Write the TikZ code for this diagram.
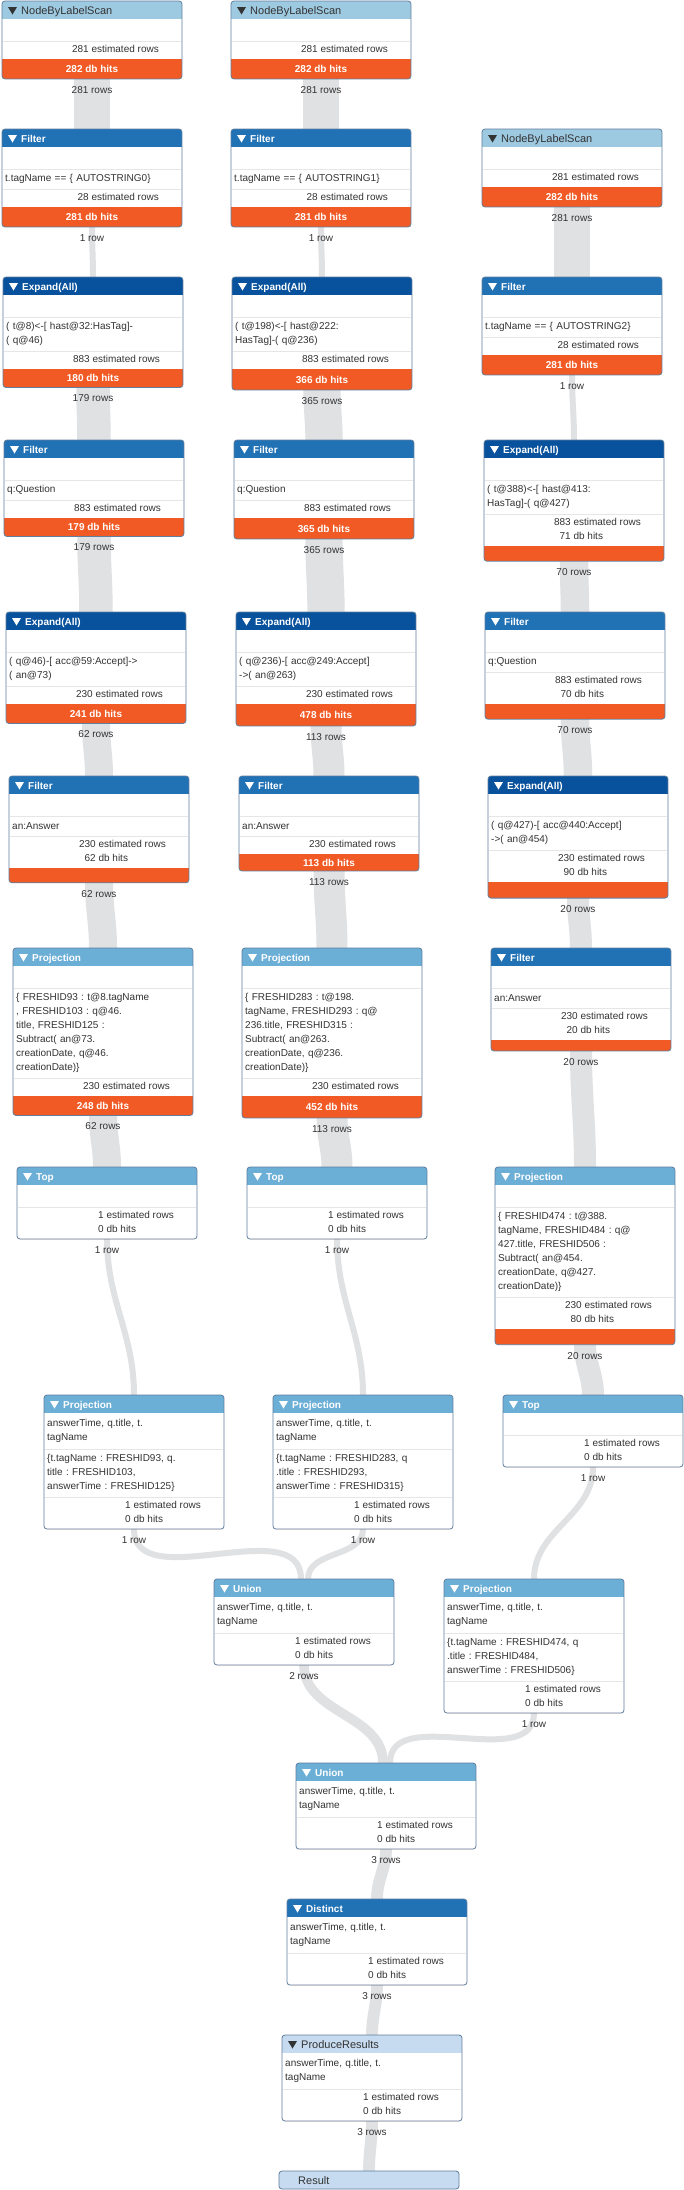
\documentclass[tikz,border=0pt]{standalone}
\usepackage{fontspec}
\setmainfont{Liberation Sans}
\usepackage{tikz}
\usetikzlibrary{backgrounds}
\usepackage{xcolor}
\frenchspacing
\definecolor{bscan}{HTML}{9ECAE1}
\definecolor{bfilt}{HTML}{2171B5}
\definecolor{bexpd}{HTML}{08519C}
\definecolor{bproj}{HTML}{6BAED6}
\definecolor{bprod}{HTML}{C6DBEF}
\definecolor{dbhit}{HTML}{F15A24}
\definecolor{bandgray}{RGB}{224,225,227}
\definecolor{framecol}{HTML}{5F7F9F}
\definecolor{inkdark}{HTML}{333333}
\definecolor{sepgray}{HTML}{E6E6E6}
\newcommand{\bodyfont}{\fontsize{10}{14}\selectfont}
\newcommand{\hdreg}{\fontsize{11}{13}\selectfont}
\newcommand{\hdbold}{\bfseries\fontsize{10}{13}\selectfont}
\tikzset{
  scan/.style     = {fill=bscan, text=inkdark, font=\hdreg},
  filt/.style     = {fill=bfilt, text=white, font=\hdbold},
  expd/.style     = {fill=bexpd, text=white, font=\hdbold},
  proj/.style     = {fill=bproj, text=white, font=\hdbold},
  prod/.style     = {fill=bprod, text=inkdark, font=\hdreg},
  scan ink/.style = {fill=inkdark},
  filt ink/.style = {fill=white},
  expd ink/.style = {fill=white},
  proj ink/.style = {fill=white},
  prod ink/.style = {fill=inkdark},
  opframe/.style  = {draw=framecol, line width=0.8pt, rounded corners=3pt,
                     minimum width=180pt, inner sep=0pt, outer sep=0pt},
  sepline/.style  = {draw=sepgray, line width=1pt},
  bodytxt/.style  = {text=inkdark, font=\bodyfont, inner sep=0pt, align=left},
  hittxt/.style   = {text=white, font=\hdbold, inner sep=0pt},
  rowlbl/.style   = {text=inkdark, font=\bodyfont, inner sep=0pt},
  flow/.style     = {draw=bandgray, line width=#1},
}
% box: id, left, top, height, kind, title, bar height, bar text
\newcommand{\opbox}[8]{%
  \path (#2,-#3) node[opframe, draw=none, minimum height=#4, anchor=north west] (#1) {};
  \begin{scope}
    \clip[rounded corners=3pt] (#1.north west) rectangle (#1.south east);
    \fill[white] (#1.north west) rectangle (#1.south east);
    \fill[#5] (#1.north west) rectangle ([yshift=-18pt]#1.north east);
    \fill[dbhit] ([yshift=#7]#1.south west) rectangle (#1.south east);
  \end{scope}
  \draw[opframe] (#1.north west) rectangle (#1.south east);
  \fill[#5 ink] ([xshift=6pt,yshift=-6pt]#1.north west) -- ++(9,0) -- ++(-4.5,-7.5) -- cycle;
  \node[#5, fill=none, anchor=base west, inner sep=0pt] (#1-h)
    at ([xshift=19pt,yshift=-13pt]#1.north west) {#6};
  \node[hittxt] (#1-b) at ([yshift=#7/2]#1.south) {#8};
}
\newcommand{\opsep}[2]{%
  \draw[sepline] ([xshift=1pt,yshift=-#2pt]#1.north west) -- ([xshift=-1pt,yshift=-#2pt]#1.north east);}
\newcommand{\optext}[4]{%
  \node[bodytxt, anchor=west, text width=174pt] (#1-t#2)
    at ([xshift=3pt,yshift={-(#2+#3)/2}]#1.north west) {#4};}
\newcommand{\opest}[4]{%
  \node[bodytxt, anchor=east] (#1-e) at ([xshift=-23pt,yshift={-(#2+#3)/2}]#1.north east)
    {\begin{tabular}{@{}r@{ }l@{}}#4\end{tabular}};}

\begin{document}
\begin{tikzpicture}[x=1pt, y=1pt]
  \useasboundingbox (0,0) rectangle (684,-2190);

  % left branch
  \opbox{n1}{2}{1}{78}{scan}{NodeByLabelScan}{20}{282 db hits}
  \opsep{n1}{40} \opest{n1}{40}{58}{281 & estimated rows}
  \opbox{f1}{2}{129}{98}{filt}{Filter}{20}{281 db hits}
  \opsep{f1}{40} \optext{f1}{40}{60}{t.tagName == \{ AUTOSTRING0\}}
  \opsep{f1}{60} \opest{f1}{60}{78}{28 & estimated rows}
  \opbox{e1}{3}{277}{110.5}{expd}{Expand(All)}{18.5}{180 db hits}
  \opsep{e1}{40} \optext{e1}{40}{74}{( t@8)<-[ hast@32:HasTag]-\\( q@46)}
  \opsep{e1}{74} \opest{e1}{74}{92}{883 & estimated rows}
  \opbox{f1b}{4}{440}{96.5}{filt}{Filter}{18.5}{179 db hits}
  \opsep{f1b}{40} \optext{f1b}{40}{60}{q:Question}
  \opsep{f1b}{60} \opest{f1b}{60}{78}{883 & estimated rows}
  \opbox{e1b}{6}{612}{111.5}{expd}{Expand(All)}{19.5}{241 db hits}
  \opsep{e1b}{40} \optext{e1b}{40}{74}{( q@46)-[ acc@59:Accept]->\\( an@73)}
  \opsep{e1b}{74} \opest{e1b}{74}{92}{230 & estimated rows}
  \opbox{f1c}{9}{776}{106.8}{filt}{Filter}{14.8}{}
  \opsep{f1c}{40} \optext{f1c}{40}{60}{an:Answer}
  \opsep{f1c}{60} \opest{f1c}{60}{92}{230 & estimated rows\\62 & db hits}
  \opbox{p1}{13}{948}{167.5}{proj}{Projection}{19.5}{248 db hits}
  \opsep{p1}{40} \optext{p1}{40}{130}{\{ FRESHID93 : t@8.tagName\\, FRESHID103 : q@46.\\title, FRESHID125 :\\Subtract( an@73.\\creationDate, q@46.\\creationDate)\}}
  \opsep{p1}{130} \opest{p1}{130}{148}{230 & estimated rows}
  \opbox{t1}{17}{1167}{72}{proj}{Top}{0}{}
  \opsep{t1}{40} \opest{t1}{40}{72}{1 & estimated rows\\0 & db hits}
  \opbox{pb1}{44}{1395}{134}{proj}{Projection}{0}{}
  \optext{pb1}{18}{54}{answerTime, q.title, t.\\tagName}
  \opsep{pb1}{54} \optext{pb1}{54}{102}{\{t.tagName : FRESHID93, q.\\title : FRESHID103,\\answerTime : FRESHID125\}}
  \opsep{pb1}{102} \opest{pb1}{102}{134}{1 & estimated rows\\0 & db hits}

  % middle branch
  \opbox{n2}{231}{1}{78}{scan}{NodeByLabelScan}{20}{282 db hits}
  \opsep{n2}{40} \opest{n2}{40}{58}{281 & estimated rows}
  \opbox{f2}{231}{129}{98}{filt}{Filter}{20}{281 db hits}
  \opsep{f2}{40} \optext{f2}{40}{60}{t.tagName == \{ AUTOSTRING1\}}
  \opsep{f2}{60} \opest{f2}{60}{78}{28 & estimated rows}
  \opbox{e2}{232}{277}{113}{expd}{Expand(All)}{21}{366 db hits}
  \opsep{e2}{40} \optext{e2}{40}{74}{( t@198)<-[ hast@222:\\HasTag]-( q@236)}
  \opsep{e2}{74} \opest{e2}{74}{92}{883 & estimated rows}
  \opbox{f2b}{234}{440}{99}{filt}{Filter}{21}{365 db hits}
  \opsep{f2b}{40} \optext{f2b}{40}{60}{q:Question}
  \opsep{f2b}{60} \opest{f2b}{60}{78}{883 & estimated rows}
  \opbox{e2b}{236}{612}{114}{expd}{Expand(All)}{22}{478 db hits}
  \opsep{e2b}{40} \optext{e2b}{40}{74}{( q@236)-[ acc@249:Accept]\\->( an@263)}
  \opsep{e2b}{74} \opest{e2b}{74}{92}{230 & estimated rows}
  \opbox{f2c}{239}{776}{95}{filt}{Filter}{17}{113 db hits}
  \opsep{f2c}{40} \optext{f2c}{40}{60}{an:Answer}
  \opsep{f2c}{60} \opest{f2c}{60}{78}{230 & estimated rows}
  \opbox{p2}{242}{948}{170}{proj}{Projection}{22}{452 db hits}
  \opsep{p2}{40} \optext{p2}{40}{130}{\{ FRESHID283 : t@198.\\tagName, FRESHID293 : q@\\236.title, FRESHID315 :\\Subtract( an@263.\\creationDate, q@236.\\creationDate)\}}
  \opsep{p2}{130} \opest{p2}{130}{148}{230 & estimated rows}
  \opbox{t2}{247}{1167}{72}{proj}{Top}{0}{}
  \opsep{t2}{40} \opest{t2}{40}{72}{1 & estimated rows\\0 & db hits}
  \opbox{pb2}{273}{1395}{134}{proj}{Projection}{0}{}
  \optext{pb2}{18}{54}{answerTime, q.title, t.\\tagName}
  \opsep{pb2}{54} \optext{pb2}{54}{102}{\{t.tagName : FRESHID283, q\\.title : FRESHID293,\\answerTime : FRESHID315\}}
  \opsep{pb2}{102} \opest{pb2}{102}{134}{1 & estimated rows\\0 & db hits}

  % right branch
  \opbox{n3}{482}{129}{78}{scan}{NodeByLabelScan}{20}{282 db hits}
  \opsep{n3}{40} \opest{n3}{40}{58}{281 & estimated rows}
  \opbox{f3}{482}{277}{98}{filt}{Filter}{20}{281 db hits}
  \opsep{f3}{40} \optext{f3}{40}{60}{t.tagName == \{ AUTOSTRING2\}}
  \opsep{f3}{60} \opest{f3}{60}{78}{28 & estimated rows}
  \opbox{e3}{484}{440}{121.3}{expd}{Expand(All)}{15.3}{}
  \opsep{e3}{40} \optext{e3}{40}{74}{( t@388)<-[ hast@413:\\HasTag]-( q@427)}
  \opsep{e3}{74} \opest{e3}{74}{106}{883 & estimated rows\\71 & db hits}
  \opbox{f3b}{485}{612}{107.2}{filt}{Filter}{15.2}{}
  \opsep{f3b}{40} \optext{f3b}{40}{60}{q:Question}
  \opsep{f3b}{60} \opest{f3b}{60}{92}{883 & estimated rows\\70 & db hits}
  \opbox{e3b}{488}{776}{122.1}{expd}{Expand(All)}{16.1}{}
  \opsep{e3b}{40} \optext{e3b}{40}{74}{( q@427)-[ acc@440:Accept]\\->( an@454)}
  \opsep{e3b}{74} \opest{e3b}{74}{106}{230 & estimated rows\\90 & db hits}
  \opbox{f3c}{491}{948}{103}{filt}{Filter}{11}{}
  \opsep{f3c}{40} \optext{f3c}{40}{60}{an:Answer}
  \opsep{f3c}{60} \opest{f3c}{60}{92}{230 & estimated rows\\20 & db hits}
  \opbox{p3}{495}{1167}{177.7}{proj}{Projection}{15.7}{}
  \opsep{p3}{40} \optext{p3}{40}{130}{\{ FRESHID474 : t@388.\\tagName, FRESHID484 : q@\\427.title, FRESHID506 :\\Subtract( an@454.\\creationDate, q@427.\\creationDate)\}}
  \opsep{p3}{130} \opest{p3}{130}{162}{230 & estimated rows\\80 & db hits}
  \opbox{t3}{503}{1395}{72}{proj}{Top}{0}{}
  \opsep{t3}{40} \opest{t3}{40}{72}{1 & estimated rows\\0 & db hits}
  \opbox{pb3}{444}{1579}{134}{proj}{Projection}{0}{}
  \optext{pb3}{18}{54}{answerTime, q.title, t.\\tagName}
  \opsep{pb3}{54} \optext{pb3}{54}{102}{\{t.tagName : FRESHID474, q\\.title : FRESHID484,\\answerTime : FRESHID506\}}
  \opsep{pb3}{102} \opest{pb3}{102}{134}{1 & estimated rows\\0 & db hits}

  % merge and result
  \opbox{u1}{214}{1579}{86}{proj}{Union}{0}{}
  \optext{u1}{18}{54}{answerTime, q.title, t.\\tagName}
  \opsep{u1}{54} \opest{u1}{54}{86}{1 & estimated rows\\0 & db hits}
  \opbox{u2}{296}{1763}{86}{proj}{Union}{0}{}
  \optext{u2}{18}{54}{answerTime, q.title, t.\\tagName}
  \opsep{u2}{54} \opest{u2}{54}{86}{1 & estimated rows\\0 & db hits}
  \opbox{d}{287}{1899}{86}{filt}{Distinct}{0}{}
  \optext{d}{18}{54}{answerTime, q.title, t.\\tagName}
  \opsep{d}{54} \opest{d}{54}{86}{1 & estimated rows\\0 & db hits}
  \opbox{pr}{282}{2035}{86}{prod}{ProduceResults}{0}{}
  \optext{pr}{18}{54}{answerTime, q.title, t.\\tagName}
  \opsep{pr}{54} \opest{pr}{54}{86}{1 & estimated rows\\0 & db hits}
  \node[opframe, fill=bprod, minimum height=18, anchor=north west] (res) at (279,-2171) {};
  \node[prod, fill=none, anchor=base west, inner sep=0pt] (res-h)
    at ([xshift=19pt,yshift=-13pt]res.north west) {Result};

  % row counts
  \foreach \bx/\lab in {n1/281 rows, f1/1 row, e1/179 rows, f1b/179 rows, e1b/62 rows,
      f1c/62 rows, p1/62 rows, t1/1 row, pb1/1 row, n2/281 rows, f2/1 row, e2/365 rows,
      f2b/365 rows, e2b/113 rows, f2c/113 rows, p2/113 rows, t2/1 row, pb2/1 row,
      n3/281 rows, f3/1 row, e3/70 rows, f3b/70 rows, e3b/20 rows, f3c/20 rows,
      p3/20 rows, t3/1 row, pb3/1 row, u1/2 rows, u2/3 rows, d/3 rows, pr/3 rows}
    \node[rowlbl] (\bx-r) at ([yshift=-11pt]\bx.south) {\lab};

  \begin{scope}[on background layer]
    \fill[white] (0,0) rectangle (684,-2190);
    \foreach \src/\dst/\w in {n1/f1/36, f1/e1/6, e1/f1b/33.5, f1b/e1b/33.5, e1b/f1c/28,
        f1c/p1/28, p1/t1/28, t1/pb1/6, n2/f2/36, f2/e2/6, e2/f2b/37.3, f2b/e2b/37.3,
        e2b/f2c/31, f2c/p2/31, p2/t2/31, t2/pb2/6, n3/f3/36, f3/e3/6, e3/f3b/28.5,
        f3b/e3b/28.5, e3b/f3c/22, f3c/p3/22, p3/t3/22, t3/pb3/6, u2/d/11.8, d/pr/11.8,
        pr/res/11.8}
      \draw[flow=\w] (\src.south) to[out=-90, in=90] (\dst.north);
    \draw[flow=6] (pb1.south) to[out=-90, in=90] ([xshift=-3pt]u1.north);
    \draw[flow=6] (pb2.south) to[out=-90, in=90] ([xshift=4pt]u1.north);
    \draw[flow=9.7] (u1.south) to[out=-90, in=90] ([xshift=-3pt]u2.north);
    \draw[flow=6] (pb3.south) to[out=-90, in=90] ([xshift=4pt]u2.north);
  \end{scope}
\end{tikzpicture}
\end{document}
